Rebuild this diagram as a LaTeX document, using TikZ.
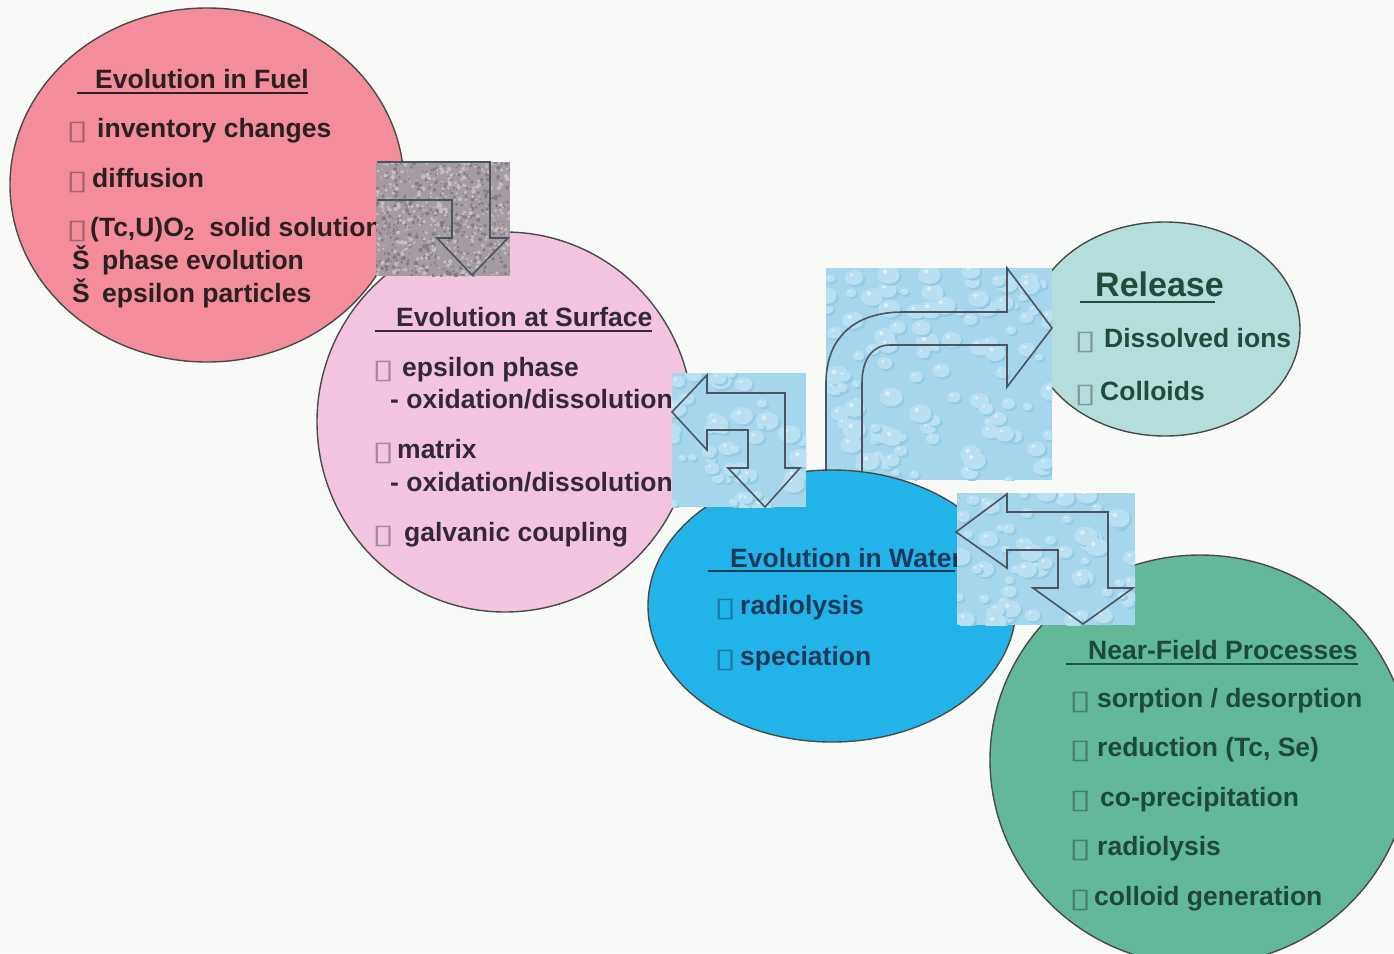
\documentclass[tikz,border=0pt]{standalone}
\usepackage{fontspec}
\setmainfont{Liberation Sans}
\newfontfamily\dvs[FakeStretch=1.5]{DejaVu Sans}
\usetikzlibrary{shapes.geometric}
\definecolor{bgc}{HTML}{F8FAF8}
\definecolor{outl}{HTML}{4A4A4A}
\definecolor{fuelc}{HTML}{F38D9B}
\definecolor{surfc}{HTML}{F3C4E0}
\definecolor{waterc}{HTML}{22B4E8}
\definecolor{relc}{HTML}{B4DEDC}
\definecolor{nfc}{HTML}{62B898}
\definecolor{fuelt}{HTML}{2B1F22}
\definecolor{surft}{HTML}{33283A}
\definecolor{watert}{HTML}{1B3A5A}
\definecolor{relt}{HTML}{1E4D3C}
\definecolor{nft}{HTML}{1B4A3A}
\definecolor{arrc}{HTML}{4A5560}
\definecolor{dropbase}{HTML}{A5D6EB}
\definecolor{dropdark}{HTML}{92CBE4}
\definecolor{droplight}{HTML}{B8E0F0}
\definecolor{graybase}{HTML}{A59CA3}
\definecolor{graydark}{HTML}{857D83}
\definecolor{graylight}{HTML}{C4BDC2}
\newcommand\mydrops[5]{%
  \begin{scope}
    \clip (#1,#2) rectangle ++(#3,#4);
    \fill[dropbase] (#1,#2) rectangle ++(#3,#4);
    \foreach \i in {1,...,#5}{%
      \pgfmathsetmacro\px{#1+#3*rnd}%
      \pgfmathsetmacro\py{#2+#4*rnd}%
      \pgfmathsetmacro\pr{4+8*rnd}%
      \fill[dropdark] (\px+2,\py+2) ellipse [x radius=\pr pt, y radius=0.8*\pr pt];
      \fill[droplight] (\px,\py) ellipse [x radius=\pr pt, y radius=0.8*\pr pt];
      \fill[white, opacity=0.5] (\px-0.3*\pr,\py-0.3*\pr) circle [radius=0.2*\pr pt];
    }
  \end{scope}}
\begin{document}
\begin{tikzpicture}[x=1pt,y=-1pt,
  blob/.style={ellipse, draw=outl, line width=1.4pt, inner sep=0pt},
  txt/.style={anchor=base west, inner sep=0pt, font=\bfseries\fontsize{26.5}{30}\selectfont},
  bxs/.style={anchor=base west, inner sep=0pt, font=\dvs\fontsize{27}{30}\selectfont, text=black, text opacity=0.3},
  arr/.style={draw=arrc, line width=1.6pt, line join=miter},
  ul/.style={line width=1.8pt}]
\pgfmathsetseed{7}
\useasboundingbox (0,0) rectangle (1394,953);
\fill[bgc] (0,0) rectangle (1394,953);

% ellipses
\node[blob, fill=fuelc, minimum width=394pt, minimum height=354pt] (fuel) at (207,185) {};
\node[blob, fill=surfc, minimum width=376pt, minimum height=380pt] (surf) at (505,422) {};
\node[blob, fill=relc, minimum width=270pt, minimum height=214pt] (rel) at (1165,329) {};
\node[blob, fill=nfc, minimum width=420pt, minimum height=410pt] (nf) at (1200,760) {};

% Fuel texts
\node[txt, text=fuelt] (f0) at (95,88) {Evolution in Fuel};
\draw[ul, fuelt] (77,93) -- (308,93);
\node[bxs] (f1b) at (66,139) {\symbol{"25AF}};
\node[txt, text=fuelt] (f1) at (97,137) {inventory changes};
\node[bxs] (f2b) at (66,189) {\symbol{"25AF}};
\node[txt, text=fuelt] (f2) at (92,187) {diffusion};
\node[bxs] (f3b) at (66,238) {\symbol{"25AF}};
\node[txt, text=fuelt] (f3) at (90,236) {(Tc,U)O\textsubscript{2}\ \ solid solution};
\node[txt, text=fuelt] (f4s) at (72,269) {Š};
\node[txt, text=fuelt] (f4) at (102,269) {phase evolution};
\node[txt, text=fuelt] (f5s) at (72,302) {Š};
\node[txt, text=fuelt] (f5) at (102,302) {epsilon particles};

% Surface texts
\node[txt, text=surft] (s0) at (396,326) {Evolution at Surface};
\draw[ul, surft] (375,331) -- (652,331);
\node[bxs] (s1b) at (372,378) {\symbol{"25AF}};
\node[txt, text=surft] (s1) at (402,376) {epsilon phase};
\node[txt, text=surft] (s2) at (390,408) {- oxidation/dissolution};
\node[bxs] (s3b) at (372,460) {\symbol{"25AF}};
\node[txt, text=surft] (s3) at (397,458) {matrix};
\node[txt, text=surft] (s4) at (390,491) {- oxidation/dissolution};
\node[bxs] (s5b) at (372,543) {\symbol{"25AF}};
\node[txt, text=surft] (s5) at (404,541) {galvanic coupling};

% Release texts
\node[txt, text=relt, font=\bfseries\fontsize{34}{38}\selectfont] (r0) at (1095,296) {Release};
\draw[ul, relt] (1080,302) -- (1215,302);
\node[bxs] (r1b) at (1074,349) {\symbol{"25AF}};
\node[txt, text=relt] (r1) at (1104,347) {Dissolved ions};
\node[bxs] (r2b) at (1074,402) {\symbol{"25AF}};
\node[txt, text=relt] (r2) at (1100,400) {Colloids};

% big curved arrow square
\mydrops{826}{268}{226}{212}{110}
\draw[arr] (826,480) -- (826,383) .. controls (826,340) and (852,312) .. (903,312)
  -- (1007,312) -- (1007,268) -- (1052,328) -- (1007,387) -- (1007,345) -- (890,345)
  .. controls (872,345) and (862,360) .. (862,383) -- (862,480);

% Water ellipse
\node[blob, fill=waterc, minimum width=368pt, minimum height=272pt] (water) at (832,606) {};
\node[txt, text=watert] (w0) at (730,567) {Evolution in Water};
\draw[ul, watert] (708,571) -- (955,571);
\node[bxs] (w1b) at (714,616) {\symbol{"25AF}};
\node[txt, text=watert] (w1) at (740,614) {radiolysis};
\node[bxs] (w2b) at (714,667) {\symbol{"25AF}};
\node[txt, text=watert] (w2) at (740,665) {speciation};

% Near-field texts
\node[txt, text=nft] (n0) at (1088,659) {Near-Field Processes};
\draw[ul, nft!80!teal] (1066,664) -- (1358,664);
\node[bxs] (n1b) at (1069,709) {\symbol{"25AF}};
\node[txt, text=nft] (n1) at (1097,707) {sorption / desorption};
\node[bxs] (n2b) at (1069,758) {\symbol{"25AF}};
\node[txt, text=nft] (n2) at (1097,756) {reduction (Tc, Se)};
\node[bxs] (n3b) at (1069,808) {\symbol{"25AF}};
\node[txt, text=nft] (n3) at (1100,806) {co-precipitation};
\node[bxs] (n4b) at (1069,857) {\symbol{"25AF}};
\node[txt, text=nft] (n4) at (1097,855) {radiolysis};
\node[bxs] (n5b) at (1069,907) {\symbol{"25AF}};
\node[txt, text=nft] (n5) at (1094,905) {colloid generation};

% gray square with arrow
\begin{scope}
  \clip (376,162) rectangle (510,276);
  \fill[graybase] (376,162) rectangle (510,276);
  \foreach \i in {1,...,450}{%
    \pgfmathsetmacro\px{376+134*rnd}%
    \pgfmathsetmacro\py{162+114*rnd}%
    \pgfmathsetmacro\pr{0.7+1.5*rnd}%
    \fill[graydark] (\px,\py) circle [radius=\pr pt];
  }
  \foreach \i in {1,...,400}{%
    \pgfmathsetmacro\px{376+134*rnd}%
    \pgfmathsetmacro\py{162+114*rnd}%
    \pgfmathsetmacro\pr{0.7+1.5*rnd}%
    \fill[graylight] (\px,\py) circle [radius=\pr pt];
  }
\end{scope}
\draw[arr] (377,162) -- (490,162) -- (490,238) -- (508,238) -- (472,275) -- (437,238)
  -- (452,238) -- (452,200) -- (377,200);

% left-down arrow square
\mydrops{672}{373}{134}{134}{45}
\draw[arr] (672,412) -- (707,375) -- (707,393) -- (785,393) -- (785,468) -- (800,468)
  -- (765,507) -- (728,468) -- (748,468) -- (748,430) -- (707,430) -- (707,450) -- cycle;

% bottom-right arrow square
\mydrops{957}{493}{178}{132}{60}
\draw[arr] (956,532) -- (1007,494) -- (1007,512) -- (1108,512) -- (1108,588) -- (1133,588)
  -- (1083,624) -- (1033,588) -- (1058,588) -- (1058,550) -- (1007,550) -- (1007,568) -- cycle;
\end{tikzpicture}
\end{document}
